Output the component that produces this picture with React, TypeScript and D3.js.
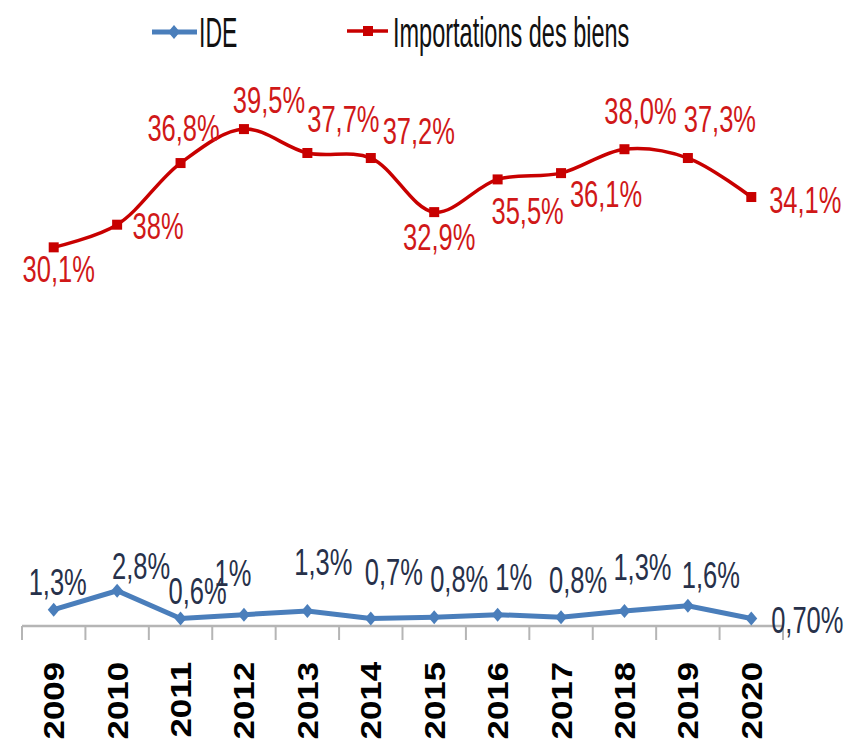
import React from "react";
import * as d3 from "d3";

const years = ["2009","2010","2011","2012","2013","2014","2015","2016","2017","2018","2019","2020"];
const ideValues = [1.3, 2.8, 0.6, 0.9, 1.2, 0.6, 0.7, 0.9, 0.7, 1.2, 1.6, 0.6];
const ideLabels = ["1,3%","2,8%","0,6%","1%","1,3%","0,7%","0,8%","1%","0,8%","1,3%","1,6%","0,70%"];
const impValues = [30.1, 31.9, 36.8, 39.5, 37.6, 37.2, 32.9, 35.5, 36.0, 37.9, 37.2, 34.1];
const impLabels = ["30,1%","38%","36,8%","39,5%","37,7%","37,2%","32,9%","35,5%","36,1%","38,0%","37,3%","34,1%"];
const seriesNames = ["IDE", "Importations des biens"];

// label placement offsets (label centre relative to the point)
const impLabelOffsets: [number, number][] = [
  [5, 21], [41, 1], [3, -36], [25, -30], [36, -35], [48, -28],
  [5, 24], [30, 31], [45, 20], [16, -39], [32, -40], [54, 2],
];
const ideLabelOffsets: [number, number][] = [
  [4, -28], [24, -25], [17, -28], [-11, -42], [16, -49], [23, -47],
  [25, -39], [16, -38], [17, -38], [18, -44], [23, -31], [56, 1],
];

const BLUE = "#4a7ebb";
const RED = "#c80000";
const RED_TEXT = "#d01818";
const BLUE_TEXT = "#27314a";
const FONT = "'Liberation Sans', Arial, sans-serif";

export default function App() {
  const W = 856, H = 745;
  const x = d3.scaleBand<string>().domain(years).range([22, 783]).paddingInner(0).paddingOuter(0);
  const y = d3.scaleLinear().domain([0, 40]).range([626, 626 - 40 * 12.58]);
  const cx = (i: number) => (x(years[i]) as number) + x.bandwidth() / 2;

  const redLine = d3.line<number>().x((_, i) => cx(i)).y((d) => y(d)).curve(d3.curveCatmullRom.alpha(0.5));
  const blueLine = d3.line<number>().x((_, i) => cx(i)).y((d) => y(d));

  const boundaries = years.map((yr) => x(yr) as number).concat([x.range()[1]]);

  const label = (txt: string, px: number, py: number, color: string, key: string) => {
    const fs = 25.5;
    return (
      <g key={key} transform={`translate(${px},${py}) scale(1,1.48)`}>
        <text x={0} y={fs * 0.358} textAnchor="middle" fontSize={fs} fill={color} fontFamily={FONT}>{txt}</text>
      </g>
    );
  };

  const diamond = (px: number, py: number, key: string, s = 7) => (
    <path key={key} d={`M${px},${py - s} L${px + s * 0.85},${py} L${px},${py + s} L${px - s * 0.85},${py} Z`} fill={BLUE} />
  );

  return (
    <svg width={W} height={H} style={{ position: "absolute", left: 0, top: 0, background: "#fff" }}>
      <rect width={W} height={H} fill="#fff" />
      {/* Legend */}
      <line x1={152} x2={197} y1={32} y2={32} stroke={BLUE} strokeWidth={5} />
      {diamond(174, 32, "ld")}
      <g transform="translate(199,47) scale(1,1.84)">
        <text x={0} y={0} fontSize={23} fontFamily={FONT} fill="#111">{seriesNames[0]}</text>
      </g>
      <line x1={347} x2={388} y1={31} y2={31} stroke={RED} strokeWidth={3.5} />
      <rect x={363} y={26} width={10} height={10} fill={RED} />
      <g transform="translate(393,47) scale(1,1.84)">
        <text x={0} y={0} fontSize={23.5} fontFamily={FONT} fill="#111">{seriesNames[1]}</text>
      </g>

      {/* Axis */}
      <line x1={x.range()[0]} x2={x.range()[1]} y1={y(0)} y2={y(0)} stroke="#b5b5b5" strokeWidth={2.5} />
      {boundaries.map((b, i) => (
        <line key={"t" + i} x1={b} x2={b} y1={y(0)} y2={y(0) + 14} stroke="#b5b5b5" strokeWidth={2} />
      ))}
      {years.map((yr, i) => (
        <g key={"yl" + i} transform={`translate(${cx(i)},662) rotate(-90) scale(1.2,1)`}>
          <text x={0} y={0} dy={10.5} textAnchor="end" fontSize={29} fontWeight="bold" fontFamily={FONT} fill="#000">{yr}</text>
        </g>
      ))}

      {/* Importations */}
      <path d={redLine(impValues) as string} fill="none" stroke={RED} strokeWidth={3.5} />
      {impValues.map((v, i) => (
        <rect key={"rs" + i} x={cx(i) - 5} y={y(v) - 5} width={10} height={10} fill={RED} />
      ))}
      {impValues.map((v, i) => label(impLabels[i], cx(i) + impLabelOffsets[i][0], y(v) + impLabelOffsets[i][1], RED_TEXT, "rl" + i))}

      {/* IDE */}
      <path d={blueLine(ideValues) as string} fill="none" stroke={BLUE} strokeWidth={5} />
      {ideValues.map((v, i) => diamond(cx(i), y(v), "bd" + i))}
      {ideValues.map((v, i) => label(ideLabels[i], cx(i) + ideLabelOffsets[i][0], y(v) + ideLabelOffsets[i][1], BLUE_TEXT, "bl" + i))}
    </svg>
  );
}
